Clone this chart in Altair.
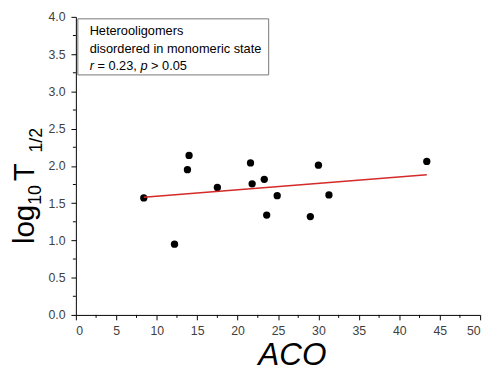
import altair as alt
import pandas as pd

# data
aco = [8.4, 12.2, 13.8, 14.0, 17.5, 21.6, 21.8, 23.3, 23.6, 24.9, 29.0, 30.0, 31.3, 43.4]
log_t = [1.57, 0.95, 1.95, 2.14, 1.71, 2.04, 1.76, 1.82, 1.34, 1.60, 1.32, 2.01, 1.61, 2.06]
fit_x = [8.4, 43.4]
fit_y = [1.58, 1.88]
x_ticks = [0, 5, 10, 15, 20, 25, 30, 35, 40, 45, 50]
y_ticks = [0.0, 0.5, 1.0, 1.5, 2.0, 2.5, 3.0, 3.5, 4.0]
x_minor = [2.5, 7.5, 12.5, 17.5, 22.5, 27.5, 32.5, 37.5, 42.5, 47.5]
y_minor = [0.25, 0.75, 1.25, 1.75, 2.25, 2.75, 3.25, 3.75]
legend_lines = ["Heterooligomers", "disordered in monomeric state"]

W, H = 411, 303
FONT = "Liberation Sans"
LBL = "#404040"

pts = pd.DataFrame({"x": aco, "y": log_t})
fit = pd.DataFrame({"x": fit_x, "y": fit_y})

xs = alt.Scale(domain=[0, 50], nice=False, zero=False)
ys = alt.Scale(domain=[0, 4], nice=False, zero=False)

xaxis = alt.Axis(values=x_ticks, title=None, grid=False, tickSize=5, tickColor="black",
                 domainColor="black", labelFont=FONT, labelFontSize=12.5, labelColor=LBL,
                 labelPadding=5, format="d", labelOverlap=False)
yaxis = alt.Axis(values=y_ticks, title=None, grid=False, tickSize=5, tickColor="black",
                 domainColor="black", labelFont=FONT, labelFontSize=12.5, labelColor=LBL,
                 labelPadding=6, format=".1f", labelOverlap=False)

points = alt.Chart(pts).mark_circle(size=55, color="black", opacity=1).encode(
    x=alt.X("x:Q", scale=xs, axis=xaxis),
    y=alt.Y("y:Q", scale=ys, axis=yaxis),
)

line = alt.Chart(fit).mark_line(color="#d42a2a", strokeWidth=1.5).encode(
    x=alt.X("x:Q", scale=xs, axis=xaxis), y=alt.Y("y:Q", scale=ys, axis=yaxis)
)

xminor = alt.Chart(pd.DataFrame({"x": x_minor})).mark_rule(color="black").encode(
    x=alt.X("x:Q", scale=xs, axis=xaxis), y=alt.value(H), y2=alt.value(H + 3)
)
yminor = alt.Chart(pd.DataFrame({"y": y_minor})).mark_rule(color="black").encode(
    y=alt.Y("y:Q", scale=ys, axis=yaxis), x=alt.value(0), x2=alt.value(-3)
)

box = alt.Chart(pd.DataFrame({"a": [0]})).mark_rect(
    fill="white", stroke="#777", strokeWidth=1
).encode(x=alt.value(2), x2=alt.value(196), y=alt.value(2), y2=alt.value(59))

def txt(s, x, y, size, italic=False, angle=0, align="left", baseline="alphabetic"):
    kw = dict(text=s, font=FONT, fontSize=size, align=align, baseline=baseline, color="black")
    if italic:
        kw["fontStyle"] = "italic"
    if angle:
        kw["angle"] = angle
    return alt.Chart(pd.DataFrame({"a": [0]})).mark_text(**kw).encode(
        x=alt.value(x), y=alt.value(y)
    )

lx = 14
fs = 13
layers = [box,
          txt(legend_lines[0], lx, 18.5, fs),
          txt(legend_lines[1], lx, 36.5, fs),
          txt("r", lx, 54, fs, italic=True),
          txt("= 0.23,", lx + 7.9, 54, fs),
          txt("p", lx + 51.7, 54, fs, italic=True),
          txt("> 0.05", lx + 62.5, 54, fs),
          # axis titles
          txt("ACO", 220, 354, 32, italic=True, align="center"),
          txt("log", -43, 231, 30, angle=270),
          txt("10", -35, 191, 18, angle=270),
          txt("T", -43, 167, 30, angle=270),
          txt("1/2", -34, 138, 18, angle=270),
          ]

chart = alt.layer(points, line, xminor, yminor, *layers).properties(
    width=W, height=H,
    autosize=alt.AutoSizeParams(type="none"),
    padding={"left": 69, "top": 6, "right": 9, "bottom": 55},
).configure_view(stroke=None).configure_axis(domainWidth=1, tickWidth=1)

chart.save("out.html", embed_options={"renderer": "svg", "actions": False})
